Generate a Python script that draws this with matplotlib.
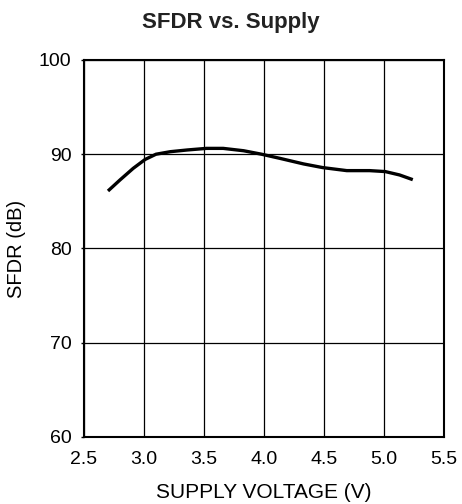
import matplotlib
matplotlib.use('Agg')
import matplotlib.pyplot as plt

plt.rcParams['font.family'] = ['Liberation Sans', 'DejaVu Sans']

# values
supply_v = [2.70, 2.80, 2.91, 3.01, 3.10, 3.22, 3.36, 3.52, 3.66, 3.83, 3.98,
            4.13, 4.33, 4.49, 4.69, 4.88, 5.01, 5.13, 5.24]
sfdr_db = [86.1, 87.27, 88.5, 89.45, 90.0, 90.27, 90.45, 90.62, 90.62, 90.37,
           90.0, 89.57, 88.97, 88.58, 88.26, 88.26, 88.16, 87.8, 87.3]

xticks = [2.5, 3.0, 3.5, 4.0, 4.5, 5.0, 5.5]
yticks = [60, 70, 80, 90, 100]

fig = plt.figure(figsize=(4.62, 5.04), dpi=100)
ax = fig.add_axes([0.1818, 0.133, 0.7792, 0.748])

ax.plot(supply_v, sfdr_db, color='black', linewidth=2.4,
        solid_joinstyle='round', solid_capstyle='butt', zorder=3)

ax.set_xlim(2.5, 5.5)
ax.set_ylim(60, 100)
ax.set_xticks(xticks)
ax.set_xticklabels(['%.1f' % v for v in xticks])
ax.set_yticks(yticks)
ax.grid(True, color='black', linewidth=0.9)
ax.tick_params(axis='x', length=0, labelsize=14, pad=10)
ax.tick_params(axis='y', length=2, width=1, labelsize=14, pad=7)
for s in ax.spines.values():
    s.set_linewidth(1.5)

ax.set_xlabel('SUPPLY VOLTAGE (V)', fontsize=15, labelpad=11)
ax.set_ylabel('SFDR (dB)', fontsize=14.5, labelpad=9)
fig.text(0.5, 0.955, 'SFDR vs. Supply', fontsize=16, fontweight='bold',
         color='#222222', ha='center', va='center')

fig.savefig('out.png', dpi=100)
